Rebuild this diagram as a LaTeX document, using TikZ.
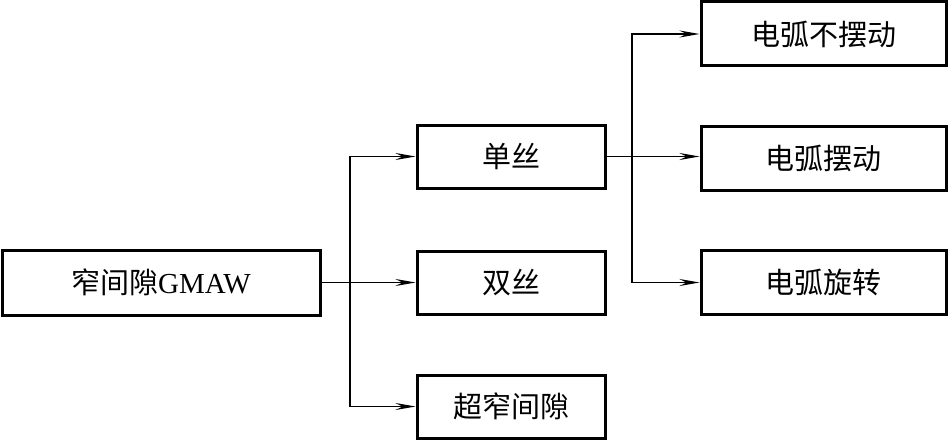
\documentclass[tikz,border=0pt]{standalone}
\usepackage{fontspec}
\setmainfont{Liberation Serif}
\newfontfamily\cjk{Noto Sans CJK SC}
\usepackage{tikz}
\usetikzlibrary{arrows.meta}
\usetikzlibrary{positioning}

\begin{document}
\begin{tikzpicture}[
	x=1pt,y=-1pt,
	box/.style={draw,line width=3pt,inner sep=0pt,font=\fontsize{29}{33}\selectfont},
	midbox/.style={box,minimum width=188pt,minimum height=63pt},
	rightbox/.style={box,minimum width=245pt,minimum height=64pt},
	link/.style={line width=1.2pt,-{Stealth[length=20pt,width=7pt,inset=7pt]}}]
  \useasboundingbox (0,0) rectangle (949,441);
  % left
  \node[box,minimum width=318pt,minimum height=65pt] (root) at (161,282.5) {{\cjk 窄间隙}GMAW};
  % middle column
  \node[midbox] (single) at (511,156.5) {\cjk 单丝};
  \node[midbox] (double) at (511,282.5) {\cjk 双丝};
  \node[midbox] (ultra) at (511,406.5) {\cjk 超窄间隙};
  % right column
  \node[rightbox] (nosw) at (823.5,34) {\cjk 电弧不摆动};
  \node[rightbox] (swing) at (823.5,158) {\cjk 电弧摆动};
  \node[rightbox] (rotate) at (823.5,282.5) {\cjk 电弧旋转};
  % connectors
  \coordinate (j1) at (350,282.5);
  \coordinate (j2) at (632,156.5);
  \draw[link] (root.east) -- (double.west);
  \draw[link] (j1) |- (single.west);
  \draw[link] (j1) |- (ultra.west);
  \draw[link] (single.east) -- (swing.west |- single.east);
  \draw[link] (j2) |- (nosw.west);
  \draw[link] (j2) |- (rotate.west);
\end{tikzpicture}
\end{document}
